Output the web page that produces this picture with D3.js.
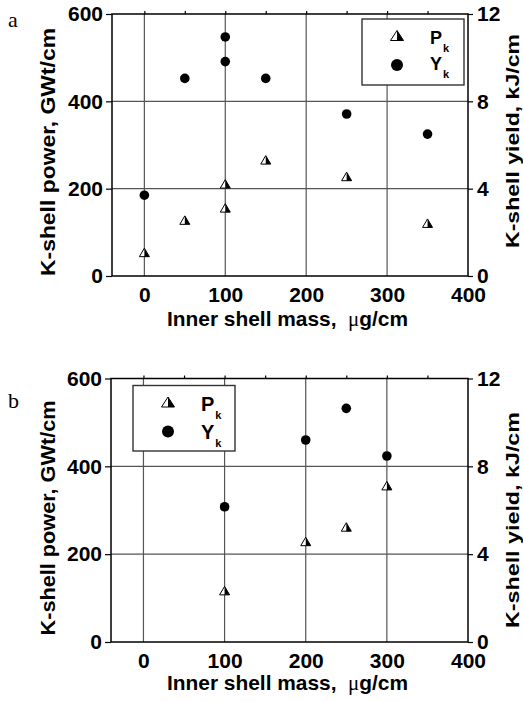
<!DOCTYPE html>
<html>
<head>
<meta charset="utf-8">
<script src="https://cdn.jsdelivr.net/npm/d3@7"></script>
<style>
  html, body { margin: 0; padding: 0; background: #fff; }
  svg { display: block; }
  .tick text { font-family: "Liberation Sans", Arial, sans-serif; font-weight: bold; font-size: 21px; fill: #000; }
  .axis-title { font-family: "Liberation Sans", Arial, sans-serif; font-weight: bold; font-size: 21px; fill: #000; }
  .panel-label { font-family: "Liberation Serif", "Times New Roman", serif; font-size: 22px; fill: #000; }
</style>
</head>
<body>
<svg id="chart" width="523" height="702"></svg>
<script>
// ---- data, panel a ----
const massA   = [0, 50, 100, 100, 150, 250, 350];
const powerA  = [54, 128, 211, 156, 266, 228, 121];          // P_k, GWt/cm
const massYA  = [0, 50, 100, 100, 150, 250, 350];
const yieldA  = [3.7, 9.05, 10.95, 9.82, 9.05, 7.42, 6.5];   // Y_k, kJ/cm

// ---- data, panel b ----
const massB   = [100, 200, 250, 300];
const powerB  = [117, 229, 262, 356];
const massYB  = [100, 200, 250, 300];
const yieldB  = [6.16, 9.2, 10.64, 8.47];

// ---- axis ticks ----
const xMajor     = [0, 100, 200, 300, 400];
const xMinor     = [50, 150, 250, 350];
const xGrid      = [0, 100, 200, 300];
const powerMajor = [0, 200, 400, 600];
const powerGrid  = [200, 400];
const yieldMajor = [0, 4, 8, 12];
const legendKeys = ["P", "Y"];

const svg = d3.select("#chart");

function triPath(w, h) {
  return `M0,${-h / 2}L${-w / 2},${h / 2}L${w / 2},${h / 2}Z`;
}
function triHalf(w, h) {
  return `M0,${-h / 2}L${w / 2},${h / 2}L0,${h / 2}Z`;
}
function drawTri(g, x, y, w, h) {
  const t = g.append("g").attr("transform", `translate(${x},${y})`);
  t.append("path").attr("d", triPath(w, h)).attr("fill", "#fff").attr("stroke", "#000").attr("stroke-width", 1);
  t.append("path").attr("d", triHalf(w, h)).attr("fill", "#000");
}

function drawPanel(cfg) {
  const { left, right, top, bottom } = cfg;

  const x = d3.scaleLinear().domain([-40, 400]).range([left, right]);
  const yP = d3.scaleLinear().domain([0, 600]).range([bottom, top]);
  const yY = d3.scaleLinear().domain([0, 12]).range([bottom, top]);

  const g = svg.append("g");

  // grid
  g.selectAll(".vgrid").data(xGrid).join("line")
    .attr("x1", d => x(d)).attr("x2", d => x(d))
    .attr("y1", top).attr("y2", bottom)
    .attr("stroke", "#555").attr("stroke-width", 1.2);
  g.selectAll(".hgrid").data(powerGrid).join("line")
    .attr("x1", left).attr("x2", right)
    .attr("y1", d => yP(d)).attr("y2", d => yP(d))
    .attr("stroke", "#555").attr("stroke-width", 1.2);

  // left axis
  const la = g.append("g").attr("transform", `translate(${left},0)`);
  la.call(d3.axisLeft(yP).tickValues(d3.range(50, 600, 50).filter(v => v % 200)).tickSize(3).tickFormat(""));
  la.call(d3.axisLeft(yP).tickValues(powerMajor).tickSize(6).tickPadding(3));

  // right axis
  const ra = g.append("g").attr("transform", `translate(${right},0)`);
  ra.call(d3.axisRight(yY).tickValues(d3.range(1, 12).filter(v => v % 4)).tickSize(3).tickFormat(""));
  ra.call(d3.axisRight(yY).tickValues(yieldMajor).tickSize(5).tickPadding(4));

  // bottom axis
  const ba = g.append("g").attr("transform", `translate(0,${bottom})`);
  ba.call(d3.axisBottom(x).tickValues(xMinor).tickSize(4).tickFormat(""));
  ba.call(d3.axisBottom(x).tickValues(xMajor).tickSize(0).tickPadding(11));

  // top axis
  const ta = g.append("g").attr("transform", `translate(0,${top})`);
  ta.call(d3.axisTop(x).tickValues(xMajor.concat(xMinor).filter(v => v < 400)).tickSize(3).tickFormat(""));

  g.selectAll(".domain").remove();
  g.selectAll(".tick line").attr("stroke", "#000").attr("stroke-width", 1.2);

  // frame
  g.append("rect")
    .attr("x", left).attr("y", top)
    .attr("width", right - left).attr("height", bottom - top)
    .attr("fill", "none").attr("stroke", "#000").attr("stroke-width", 1.5);

  // data: yield circles
  g.selectAll(".yk").data(cfg.yieldVals).join("circle")
    .attr("cx", (d, i) => x(cfg.massY[i]))
    .attr("cy", d => yY(d))
    .attr("r", 4.8)
    .attr("fill", "#000");

  // data: power triangles
  cfg.powerVals.forEach((d, i) => drawTri(g, x(cfg.mass[i]), yP(d), 10, 8.5));

  // titles
  g.append("text").attr("class", "axis-title")
    .attr("transform", `translate(${cfg.leftTitleX},${cfg.leftTitleY}) rotate(-90)`)
    .attr("text-anchor", "middle")
    .attr("textLength", cfg.leftTitleLen).attr("lengthAdjust", "spacingAndGlyphs")
    .text("K-shell power, GWt/cm");
  g.append("text").attr("class", "axis-title")
    .attr("transform", `translate(${cfg.rightTitleX},${cfg.rightTitleY}) rotate(-90)`)
    .attr("text-anchor", "middle")
    .attr("textLength", cfg.rightTitleLen).attr("lengthAdjust", "spacingAndGlyphs")
    .style("font-size", "19px")
    .text("K-shell yield, kJ/cm");
  const xt = g.append("text").attr("class", "axis-title")
    .attr("x", 167).attr("y", cfg.xTitleY)
    .attr("textLength", 241).attr("lengthAdjust", "spacingAndGlyphs");
  xt.append("tspan").text("Inner shell mass,\u00a0\u00a0");
  xt.append("tspan")
    .style("font-family", "'Liberation Serif', 'Times New Roman', serif")
    .style("font-weight", "normal")
    .text("\u03bc");
  xt.append("tspan").text("g/cm");

  g.append("text").attr("class", "panel-label")
    .attr("x", 8).attr("y", cfg.labelY)
    .text(cfg.label);

  // legend
  const lg = g.append("g").attr("transform", `translate(${cfg.legX},${cfg.legY})`);
  lg.append("rect")
    .attr("width", 102).attr("height", cfg.legH)
    .attr("fill", "#fff").attr("stroke", "#333").attr("stroke-width", 1.4);
  drawTri(lg, 35, 16.5, 13, 10);
  lg.append("circle").attr("cx", 35).attr("cy", 46).attr("r", 6).attr("fill", "#000");
  legendKeys.forEach((k, i) => {
    const t = lg.append("text").attr("class", "axis-title")
      .attr("x", 68).attr("y", cfg.legTextY[i])
      .style("font-size", cfg.legFont + "px");
    t.append("tspan").text(k);
    t.append("tspan").attr("dx", 1).attr("dy", 8).style("font-size", "11px").text("k");
  });
}

drawPanel({
  left: 112, right: 468, top: 14, bottom: 276,
  mass: massA, powerVals: powerA, massY: massYA, yieldVals: yieldA,
  leftTitleX: 55, leftTitleY: 152, leftTitleLen: 248,
  rightTitleX: 519, rightTitleY: 141, rightTitleLen: 214,
  xTitleY: 326,
  label: "a", labelY: 27,
  legX: 362, legY: 19, legH: 66, legFont: 18, legTextY: [25, 51]
});

drawPanel({
  left: 111, right: 468, top: 378.5, bottom: 642,
  mass: massB, powerVals: powerB, massY: massYB, yieldVals: yieldB,
  leftTitleX: 55, leftTitleY: 518, leftTitleLen: 235,
  rightTitleX: 519, rightTitleY: 520, rightTitleLen: 216,
  xTitleY: 690,
  label: "b", labelY: 408,
  legX: 133, legY: 385.5, legH: 65.5, legFont: 20, legTextY: [25.5, 53.5]
});
</script>
</body>
</html>
